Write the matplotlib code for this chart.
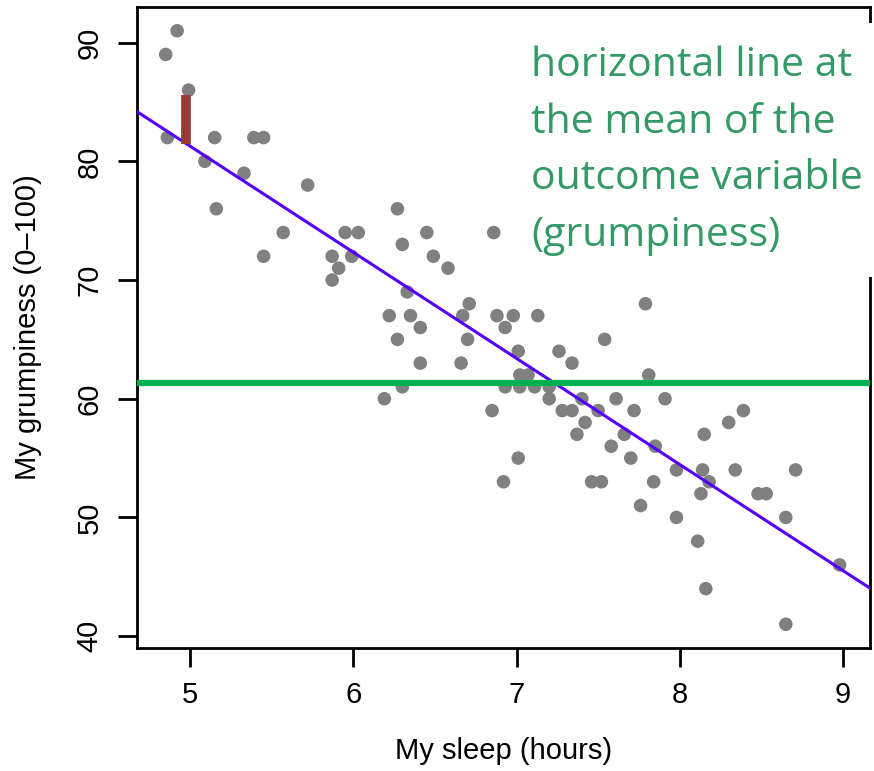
import matplotlib.pyplot as plt
from matplotlib.patches import Rectangle
import numpy as np

# ── data ─────────────────────────────────────────────────────────
sleep = [4.92, 4.85, 4.99, 4.86, 5.15, 5.39, 5.45, 5.09, 5.33, 5.72,
         5.16, 5.57, 5.95, 6.03, 6.27, 6.45, 6.86, 6.30, 5.87, 5.91,
         5.87, 5.99, 6.49, 6.58, 6.33, 6.71, 6.67, 6.22, 6.35, 6.88,
         6.98, 7.13, 6.41, 6.93, 6.27, 6.70, 7.01, 7.26, 6.41, 6.66,
         7.34, 7.02, 7.07, 6.93, 7.02, 7.11, 7.20, 7.20, 6.30, 6.19,
         7.28, 7.34, 6.85, 7.79, 7.54, 7.81, 7.61, 7.91, 7.50, 7.72,
         8.39, 7.42, 8.30, 7.37, 7.66, 8.15, 7.58, 7.85, 7.70, 7.98,
         8.14, 8.34, 8.71, 7.46, 7.52, 7.84, 8.18, 8.13, 8.48, 8.53,
         7.76, 7.98, 8.65, 8.11, 8.98, 8.16, 8.65, 7.40, 7.01, 6.92,
         5.45]
grump = [91, 89, 86, 82, 82, 82, 82, 80, 79, 78,
         76, 74, 74, 74, 76, 74, 74, 73, 72, 71,
         70, 72, 72, 71, 69, 68, 67, 67, 67, 67,
         67, 67, 66, 66, 65, 65, 64, 64, 63, 63,
         63, 62, 62, 61, 61, 61, 61, 60, 61, 60,
         59, 59, 59, 68, 65, 62, 60, 60, 59, 59,
         59, 58, 58, 57, 57, 57, 56, 56, 55, 54,
         54, 54, 54, 53, 53, 53, 53, 52, 52, 52,
         51, 50, 50, 48, 46, 44, 41, 60, 55, 53,
         72]

intercept, slope = 125.956, -8.937   # regression line
mean_line = 61.35                    # green horizontal line
resid_x, resid_top = 4.975, 85.6     # highlighted residual

note = "horizontal line at\nthe mean of the\noutcome variable\n(grumpiness)"
# ─────────────────────────────────────────────────────────────────

plt.rcParams['font.family'] = ['Liberation Sans', 'DejaVu Sans']

fig = plt.figure(figsize=(8.74, 7.71), dpi=100)
ax = fig.add_axes([137/874, 1 - 648/771, 733/874, 641/771])

ax.scatter(sleep, grump, s=95, color="#808080", edgecolors="none", zorder=2)

xs = np.array([4.5, 9.5])
ax.plot(xs, intercept + slope * xs, color="#5500FF", lw=2.2, zorder=3)
ax.axhline(mean_line, color="#00B050", lw=4.5, zorder=4)
ax.plot([resid_x, resid_x], [intercept + slope * resid_x, resid_top],
        color="#983A36", lw=7, solid_capstyle="butt", zorder=3)

ax.set_xlim(4.674, 9.166)
ax.set_ylim(39, 93)
ax.set_xticks([5, 6, 7, 8, 9])
ax.set_yticks([40, 50, 60, 70, 80, 90])
ax.tick_params(axis='both', labelsize=21, length=14, width=2, pad=10)
ax.tick_params(axis='y', labelrotation=90)
for lab in ax.get_yticklabels():
    lab.set_va('center')
for sp in ax.spines.values():
    sp.set_linewidth(2)

ax.set_xlabel("My sleep (hours)", fontsize=21, labelpad=20)
ax.set_ylabel("My grumpiness (0\u2013100)", fontsize=21, labelpad=24)

# white box behind the note (hides part of the right spine)
fig.patches.append(Rectangle((525/874, 1 - 277/771), 349/874, 254/771,
                             transform=fig.transFigure, facecolor="white",
                             edgecolor="none", zorder=5))
fig.text(531/874, 1 - 46/771, note, color="#339966", fontsize=29.5,
         family=['Open Sans', 'DejaVu Sans'], va='top', ha='left',
         linespacing=1.52, zorder=6)

fig.savefig("out.png", dpi=100)
